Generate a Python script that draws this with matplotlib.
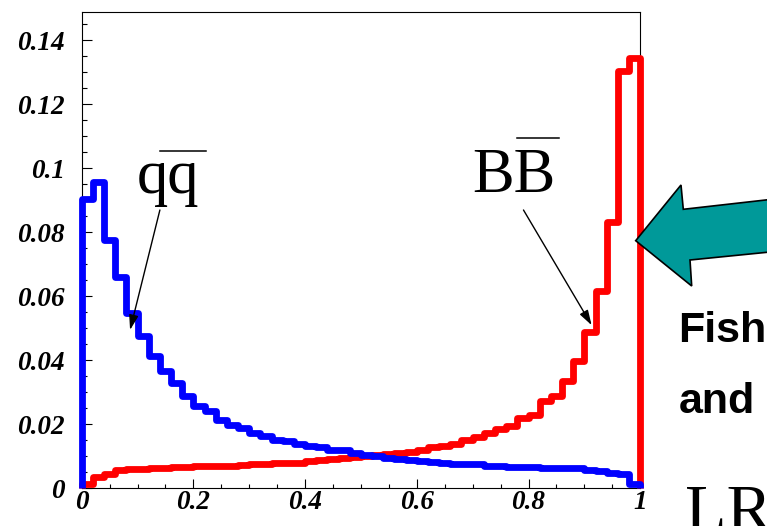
import numpy as np
import matplotlib
matplotlib.use("Agg")
import matplotlib.pyplot as plt
from matplotlib.lines import Line2D
from matplotlib.patches import Polygon

# 50-bin normalised distributions of the discriminant output
bin_edges = np.linspace(0.0, 1.0, 51)

qqbar = [0.0905, 0.0956, 0.0775, 0.0659, 0.0549, 0.0476, 0.0413, 0.0366, 0.0330, 0.0288,
         0.0257, 0.0241, 0.0215, 0.0199, 0.0188, 0.0172, 0.0162, 0.0152, 0.0147, 0.0139,
         0.0133, 0.0130, 0.0121, 0.0119, 0.0110, 0.0103, 0.0101, 0.0096, 0.0093, 0.0088,
         0.0086, 0.0081, 0.0079, 0.0077, 0.0076, 0.0075, 0.0071, 0.0070, 0.0068, 0.0067,
         0.0066, 0.0065, 0.0064, 0.0063, 0.0062, 0.0058, 0.0054, 0.0049, 0.0044, 0.0014]

bbbar = [0.0012, 0.0036, 0.0044, 0.0058, 0.0059, 0.0061, 0.0063, 0.0064, 0.0066, 0.0067,
         0.0069, 0.0070, 0.0071, 0.0071, 0.0072, 0.0076, 0.0077, 0.0078, 0.0078, 0.0079,
         0.0084, 0.0087, 0.0091, 0.0094, 0.0097, 0.0101, 0.0104, 0.0108, 0.0111, 0.0114,
         0.0121, 0.0130, 0.0131, 0.0140, 0.0150, 0.0160, 0.0172, 0.0186, 0.0196, 0.0220,
         0.0230, 0.0272, 0.0287, 0.0335, 0.0398, 0.0490, 0.0618, 0.0832, 0.1306, 0.1345]

x_ticks = [0, 0.2, 0.4, 0.6, 0.8, 1]
x_tick_labels = ["0", "0.2", "0.4", "0.6", "0.8", "1"]
y_ticks = [0, 0.02, 0.04, 0.06, 0.08, 0.1, 0.12, 0.14]
y_tick_labels = ["0", "0.02", "0.04", "0.06", "0.08", "0.1", "0.12", "0.14"]

W, H = 767, 526
fig = plt.figure(figsize=(W / 100, H / 100), dpi=100)
ax = fig.add_axes([81.7 / W, 1 - 488.3 / H, (640.2 - 81.7) / W, (488.3 - 12.3) / H])

ax.stairs(bbbar, bin_edges, baseline=0, color="#ff0000", lw=4.9, clip_on=False,
          joinstyle="round", zorder=3)
ax.stairs(qqbar, bin_edges, baseline=0, color="#0000ff", lw=4.9, clip_on=False,
          joinstyle="round", zorder=4)

ax.set_xlim(0, 1)
ax.set_ylim(0, 0.1488)

tick_font = dict(family="Liberation Serif", weight="bold", style="italic", size=19.5)
ax.set_xticks(x_ticks)
ax.set_xticklabels(x_tick_labels, fontdict=tick_font)
ax.set_yticks(y_ticks)
ax.set_yticklabels(y_tick_labels, fontdict=tick_font)
ax.set_xticks(np.arange(0, 1.0001, 0.05), minor=True)
ax.set_yticks(np.arange(0, 0.1451, 0.005), minor=True)
ax.tick_params(axis="both", which="both", direction="in", top=False, right=False,
               width=0.8, color="black")
ax.tick_params(axis="y", which="major", length=7.2, pad=12)
ax.tick_params(axis="y", which="minor", length=3.6)
ax.tick_params(axis="x", which="major", length=6.5, pad=1)
ax.tick_params(axis="x", which="minor", length=3)
for sp in ax.spines.values():
    sp.set_linewidth(0.8)
    sp.set_color("black")

# labels with arrows
label_font = dict(family="Liberation Serif", size=45)
ax.text(0.099, 0.0923, "qq", va="baseline", ha="left", **label_font)
ax.text(0.700, 0.0926, "BB", va="baseline", ha="left", **label_font)
fig.add_artist(Line2D([160 / W, 206 / W], [1 - 150.7 / H, 1 - 150.7 / H], color="black", lw=1.1))
fig.add_artist(Line2D([517 / W, 559 / W], [1 - 138.3 / H, 1 - 138.3 / H], color="black", lw=1.1))

arrow = dict(arrowstyle="-|>,head_length=0.9,head_width=0.28", color="black", lw=1.0,
             shrinkA=0, shrinkB=0)
ax.annotate("", xy=(0.0866, 0.0495), xytext=(0.140, 0.0870), arrowprops=arrow, zorder=6)
ax.annotate("", xy=(0.913, 0.0510), xytext=(0.791, 0.0870), arrowprops=arrow, zorder=6)

# big teal arrow pointing at the signal peak
arrow_px = [(635.7, 240.7), (681, 185), (683.3, 209.3), (770, 199.5),
            (770, 252), (690, 260), (691.7, 286)]
fig.add_artist(Polygon([(x / W, 1 - y / H) for x, y in arrow_px], closed=True,
                       facecolor="#009999", edgecolor="black", lw=1.2, zorder=10))

fig.text(678.3 / W, 1 - 341.7 / H, "Fish", family="Liberation Sans", weight="bold",
         size=31, va="baseline", ha="left")
fig.text(678.3 / W, 1 - 413.3 / H, "and", family="Liberation Sans", weight="bold",
         size=31, va="baseline", ha="left")
fig.text(685 / W, 1 - 531 / H, "LR", family="Liberation Serif", size=49,
         va="baseline", ha="left")

fig.savefig("out.png", dpi=100)
